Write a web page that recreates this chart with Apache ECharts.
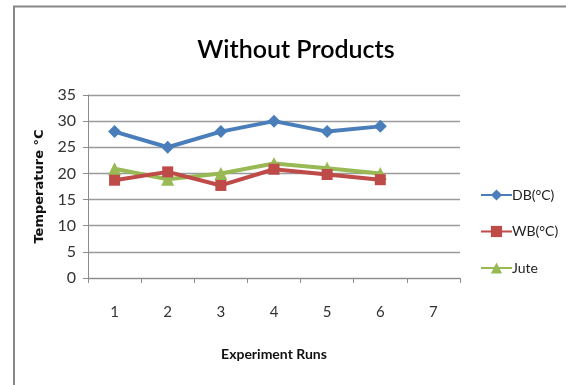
<!DOCTYPE html>
<html>
<head>
<meta charset="utf-8">
<script src="https://cdn.jsdelivr.net/npm/echarts@6/dist/echarts.min.js"></script>
<style>
  html, body { margin: 0; padding: 0; background: #fff; }
  #chart { width: 566px; height: 385px; }
</style>
</head>
<body>
<div id="chart"></div>
<script>
// Experiment runs on the category axis (run 7 has no readings yet)
const runs = ['1', '2', '3', '4', '5', '6', '7'];

// Temperatures in °C for each run
const dbTemp = [28, 25, 28, 30, 28, 29];
const wbTemp = [18.7, 20.3, 17.7, 20.8, 19.8, 18.8];
const juteTemp = [20.9, 18.9, 20, 21.9, 21, 20];

const seriesNames = ['DB(°C)', 'WB(°C)', 'Jute'];
const seriesColors = ['#4a7ebb', '#be4b48', '#98b954'];
const seriesSymbols = ['diamond', 'rect', 'triangle'];
const seriesValues = [dbTemp, wbTemp, juteTemp];

const face = "Lato, 'Liberation Sans', sans-serif";

const chart = echarts.init(document.getElementById('chart'), null, { renderer: 'canvas' });

chart.setOption({
  animation: false,
  backgroundColor: '#fff',
  title: {
    text: 'Without Products',
    left: 291,
    top: 32,
    textAlign: 'center',
    textStyle: { fontFamily: face, fontSize: 25, fontWeight: 600, color: '#000' }
  },
  graphic: [{
    type: 'polyline',
    shape: { points: [[14, 385], [14, 6.5], [566, 6.5]] },
    style: { stroke: '#888', lineWidth: 2, fill: null }
  }],
  legend: {
    orient: 'vertical',
    left: 475,
    top: 183,
    itemWidth: 31,
    itemHeight: 14,
    itemGap: 22.5,
    textStyle: { fontFamily: face, fontSize: 14, color: '#222', padding: [0, 0, 0, -5] },
    data: seriesNames
  },
  grid: { left: 88, right: 106, top: 95, bottom: 107 },
  xAxis: {
    type: 'category',
    data: runs,
    boundaryGap: true,
    name: 'Experiment Runs',
    nameLocation: 'middle',
    nameGap: 69,
    nameTextStyle: { fontFamily: face, fontSize: 14, fontWeight: 'bold', color: '#111' },
    axisLine: { lineStyle: { color: '#8c8c8c', width: 1 } },
    axisTick: { show: true, length: 5, inside: false, lineStyle: { color: '#8c8c8c' } },
    axisLabel: { fontFamily: face, fontSize: 15, color: '#333', margin: 27 }
  },
  yAxis: {
    type: 'value',
    min: 0,
    max: 35,
    interval: 5,
    name: 'Temperature °C',
    nameLocation: 'middle',
    nameGap: 37,
    nameTextStyle: { fontFamily: "'DejaVu Sans', sans-serif", fontSize: 13, fontWeight: 'bold', color: '#111' },
    axisLine: { show: true, lineStyle: { color: '#8c8c8c', width: 1 } },
    axisTick: { show: true, length: 5, lineStyle: { color: '#8c8c8c' } },
    axisLabel: { fontFamily: face, fontSize: 16, color: '#333', margin: 12 },
    splitLine: { lineStyle: { color: '#9a9a9a', width: 1.3 } }
  },
  series: seriesNames.map((name, i) => ({
    name: name,
    type: 'line',
    data: seriesValues[i],
    symbol: seriesSymbols[i],
    symbolSize: seriesSymbols[i] === 'rect' ? 11 : 13,
    showSymbol: true,
    lineStyle: { color: seriesColors[i], width: 4 },
    itemStyle: { color: seriesColors[i] },
    z: 3 - i
  }))
});
</script>
</body>
</html>
